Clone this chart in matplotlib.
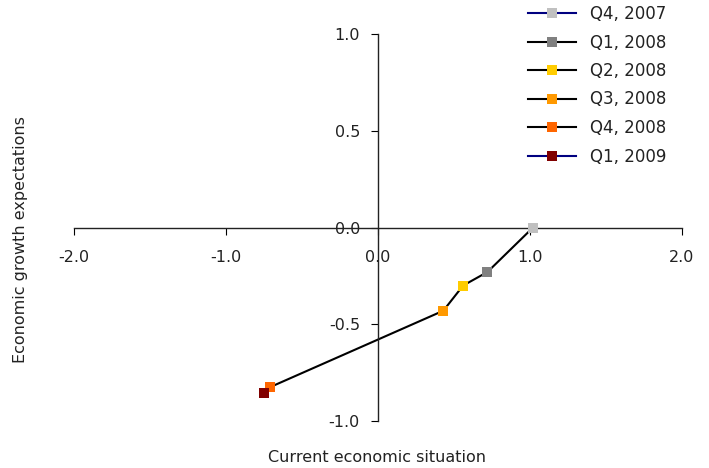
import numpy as np
import matplotlib
matplotlib.use('Agg')
import matplotlib.pyplot as plt

# quarters and their position (current situation, growth expectations)
quarters = ['Q4, 2007', 'Q1, 2008', 'Q2, 2008', 'Q3, 2008', 'Q4, 2008', 'Q1, 2009']
current = [1.02, 0.72, 0.56, 0.43, -0.71, -0.75]
expect = [0.0, -0.23, -0.30, -0.43, -0.825, -0.855]
marker_colors = ['#c0c0c0', '#808080', '#ffcc00', '#ff9900', '#ff6600', '#800000']
line_colors = ['#000080', '#000000', '#000000', '#000000', '#000000', '#000080']

plt.rcParams['font.family'] = ['DejaVu Sans']

fig = plt.figure(figsize=(7.09, 4.68), dpi=100)
ax = fig.add_axes([74/709, 1 - 421/468, 608/709, 387/468])

# connecting path
ax.plot(current, expect, color='black', lw=1.5, zorder=2)

for q, x, y, mc, lc in zip(quarters, current, expect, marker_colors, line_colors):
    ax.plot([x], [y], color=lc, lw=1.5, marker='s', ms=6.5, mew=0,
            mfc=mc, label=q, zorder=3)

ax.set_xlim(-2, 2)
ax.set_ylim(-1, 1)
ax.set_xticks(np.arange(-2, 2.01, 1.0))
ax.set_yticks(np.arange(-1, 1.01, 0.5))
ax.xaxis.set_major_formatter(matplotlib.ticker.FormatStrFormatter('%.1f'))
ax.yaxis.set_major_formatter(matplotlib.ticker.FormatStrFormatter('%.1f'))

ax.spines['left'].set_position(('data', 0))
ax.spines['bottom'].set_position(('data', 0))
ax.spines['top'].set_visible(False)
ax.spines['right'].set_visible(False)
for s in ['left', 'bottom']:
    ax.spines[s].set_linewidth(1.0)
    ax.spines[s].set_color('#222222')

ax.tick_params(axis='x', length=5, pad=11, labelsize=11.5, labelcolor='#222222')
ax.tick_params(axis='y', length=5, pad=8, labelsize=11.5, labelcolor='#222222')
ax.patch.set_visible(False)

fig.text(377/709, 1 - 457/468, 'Current economic situation', ha='center', va='center',
         fontsize=11.5, color='#222222')
fig.text(21/709, 1 - 240/468, 'Economic growth expectations', ha='center', va='center',
         rotation=90, fontsize=11.5, color='#222222')

leg = fig.legend(loc='upper left', bbox_to_anchor=(528/709, 1 - 5/468),
                 frameon=False, borderpad=0, borderaxespad=0, fontsize=12,
                 handlelength=2.9, handletextpad=0.8, labelspacing=0.63)
for t in leg.get_texts():
    t.set_color('#222222')

fig.savefig('out.png', dpi=100)
